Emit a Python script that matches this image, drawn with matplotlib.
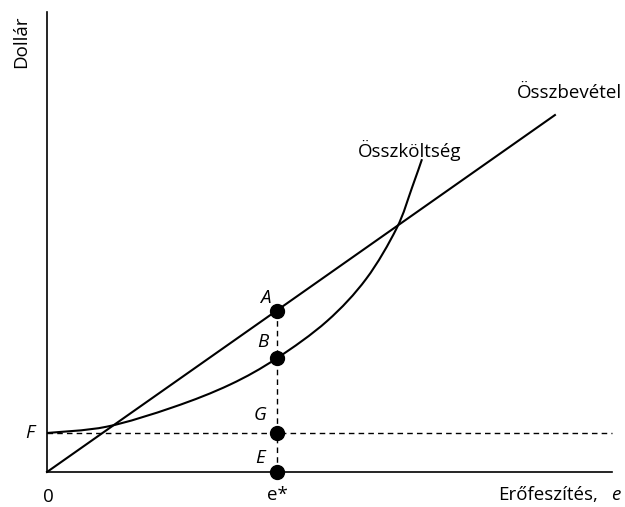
import numpy as np
import matplotlib.pyplot as plt
from matplotlib.path import Path
from matplotlib.patches import PathPatch

plt.rcParams['font.family'] = ['Open Sans', 'DejaVu Sans']

# values (effort e, dollars), both axes 0..100
cost_e = [0, 10.57, 22.35, 32.39, 40.65, 49.56, 56.5, 61.89, 64.6, 66.37]
cost_y = [8.48, 9.85, 14.1, 19.0, 24.7, 32.8, 42.0, 53.0, 61.8, 68.0]
rev_e = [0, 89.9]
rev_y = [0, 77.6]
F = 8.5
e_star = 40.7
A = 35.1
B = 24.7
point_labels = ['A', 'B', 'G', 'E']
point_y = [A, B, F, 0]

fig = plt.figure(figsize=(6.25, 5.07), dpi=100)
ax = fig.add_axes([47/625, 35/507, 565/625, 460/507])
ax.set_xlim(0, 100)
ax.set_ylim(0, 100)
for s in ['top', 'right']:
    ax.spines[s].set_visible(False)
for s in ['left', 'bottom']:
    ax.spines[s].set_linewidth(1.2)
ax.set_xticks([])
ax.set_yticks([])

ax.plot(rev_e, rev_y, color='black', lw=1.5, clip_on=False)

# smooth curve through the read points (cubic bezier segments)
pts = np.column_stack([cost_e, cost_y])
n = len(pts)
verts = [pts[0]]
codes = [Path.MOVETO]
for i in range(n - 1):
    p0 = pts[max(i - 1, 0)]
    p1 = pts[i]
    p2 = pts[i + 1]
    p3 = pts[min(i + 2, n - 1)]
    verts += [p1 + (p2 - p0) / 6, p2 - (p3 - p1) / 6, p2]
    codes += [Path.CURVE4] * 3
ax.add_patch(PathPatch(Path(verts, codes), facecolor='none', edgecolor='black', lw=1.5))

ax.plot([0, 100], [F, F], color='black', lw=1, ls=(0, (4, 3)), clip_on=False)
ax.plot([e_star, e_star], [0, A], color='black', lw=1, ls=(0, (4, 3)))
ax.plot([e_star] * 4, point_y, 'o', color='black', ms=10, clip_on=False, zorder=5)

fs = 13.5
lab_x = [38.6, 38.2, 37.7, 37.7]
lab_y = [37.8, 28.3, 12.4, 3.0]
for t, x, y in zip(point_labels, lab_x, lab_y):
    ax.text(x, y, t, style='italic', fontsize=fs, ha='center', va='center')

ax.text(101.8, 82.4, 'Összbevétel', fontsize=fs, ha='right', va='center', clip_on=False)
ax.text(64.2, 70, 'Összköltség', fontsize=fs, ha='center', va='center')
ax.text(-3.0, F, 'F', style='italic', fontsize=fs, ha='center', va='center', clip_on=False)
ax.text(0.2, -5.4, '0', fontsize=fs, ha='center', va='center', clip_on=False)
ax.text(e_star, -5.0, 'e*', fontsize=fs, ha='center', va='center', clip_on=False)
ax.text(97.5, -5.0, 'Erőfeszítés,', fontsize=fs, ha='right', va='center', clip_on=False)
ax.text(100.7, -5.0, 'e', style='italic', fontsize=fs, ha='center', va='center', clip_on=False)
ax.text(-4.6, 93.6, 'Dollár', fontsize=fs, rotation=90, ha='center', va='center', clip_on=False)

fig.savefig('out.png', dpi=100)
